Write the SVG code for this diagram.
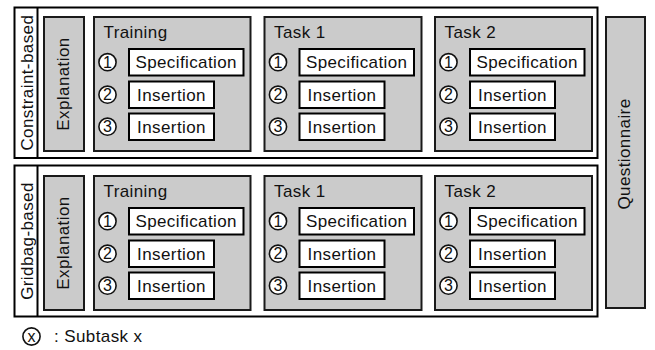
<svg xmlns="http://www.w3.org/2000/svg" width="655" height="350" viewBox="0 0 655 350">
<style>
text{font-family:"Liberation Sans",Arial,Helvetica,sans-serif;font-size:17px;fill:#111;letter-spacing:0.4px}
.outer{fill:#fff;stroke:#000;stroke-width:2}
.gray{fill:#cbcbcb;stroke:#1a1a1a;stroke-width:2}
.wb{fill:#fff;stroke:#000;stroke-width:2}
.circ{fill:#fff;stroke:#111;stroke-width:1.6}
.mid{text-anchor:middle}
.dig{letter-spacing:0;font-size:16px}
</style>
<rect width="655" height="350" fill="#fff"/>
<defs>
<g id="task">
<circle class="circ" cx="13.5" cy="45.2" r="8.6"/>
<text class="mid dig" x="13.5" y="50.9">1</text>
<rect class="wb" x="35" y="32" width="114.5" height="26.5"/>
<text class="mid" x="92.2" y="51.4">Specification</text>
<circle class="circ" cx="13.5" cy="77.7" r="8.6"/>
<text class="mid dig" x="13.5" y="83.4">2</text>
<rect class="wb" x="35" y="64.5" width="85" height="26.5"/>
<text class="mid" x="77.5" y="83.9">Insertion</text>
<circle class="circ" cx="13.5" cy="109.7" r="8.6"/>
<text class="mid dig" x="13.5" y="115.4">3</text>
<rect class="wb" x="35" y="96.5" width="85" height="26.5"/>
<text class="mid" x="77.5" y="115.9">Insertion</text>
</g>
</defs>
<g id="constraint-based">
<rect class="outer" x="14.5" y="7.5" width="583" height="150.5"/>
<line x1="37.5" y1="7.5" x2="37.5" y2="158" stroke="#000" stroke-width="2"/>
<text class="mid" transform="translate(33,82.7) rotate(-90)">Constraint-based</text>
</g>
<g id="cb-explanation">
<rect class="gray" x="44" y="17" width="40" height="134"/>
<text class="mid" transform="translate(69,84) rotate(-90)">Explanation</text>
</g>
<g id="cb-training">
<rect class="gray" x="94" y="17" width="156.5" height="134"/>
<text x="103.5" y="38.3">Training</text>
<use href="#task" transform="translate(94,17)"/>
</g>
<g id="cb-task1">
<rect class="gray" x="264.5" y="17" width="157" height="134"/>
<text x="274" y="38.3">Task 1</text>
<use href="#task" transform="translate(264.5,17)"/>
</g>
<g id="cb-task2">
<rect class="gray" x="435" y="17" width="157" height="134"/>
<text x="444.5" y="38.3">Task 2</text>
<use href="#task" transform="translate(435,17)"/>
</g>
<g id="gridbag-based">
<rect class="outer" x="14.5" y="165.5" width="583" height="151"/>
<line x1="37.5" y1="165.5" x2="37.5" y2="316.5" stroke="#000" stroke-width="2"/>
<text class="mid" transform="translate(33,241) rotate(-90)">Gridbag-based</text>
</g>
<g id="gb-explanation">
<rect class="gray" x="44" y="176" width="40" height="134"/>
<text class="mid" transform="translate(69,243) rotate(-90)">Explanation</text>
</g>
<g id="gb-training">
<rect class="gray" x="94" y="176" width="156.5" height="134"/>
<text x="103.5" y="197.3">Training</text>
<use href="#task" transform="translate(94,176)"/>
</g>
<g id="gb-task1">
<rect class="gray" x="264.5" y="176" width="157" height="134"/>
<text x="274" y="197.3">Task 1</text>
<use href="#task" transform="translate(264.5,176)"/>
</g>
<g id="gb-task2">
<rect class="gray" x="435" y="176" width="157" height="134"/>
<text x="444.5" y="197.3">Task 2</text>
<use href="#task" transform="translate(435,176)"/>
</g>
<g id="questionnaire">
<rect class="gray" x="606" y="17" width="39" height="291"/>
<text class="mid" transform="translate(630,154) rotate(-90)">Questionnaire</text>
</g>
<g id="legend">
<circle class="circ" cx="31.5" cy="336.5" r="8.6"/>
<text class="mid dig" x="31.5" y="341.5">x</text>
<text x="54" y="342">: Subtask x</text>
</g>
<g id="connectors"/>
</svg>
